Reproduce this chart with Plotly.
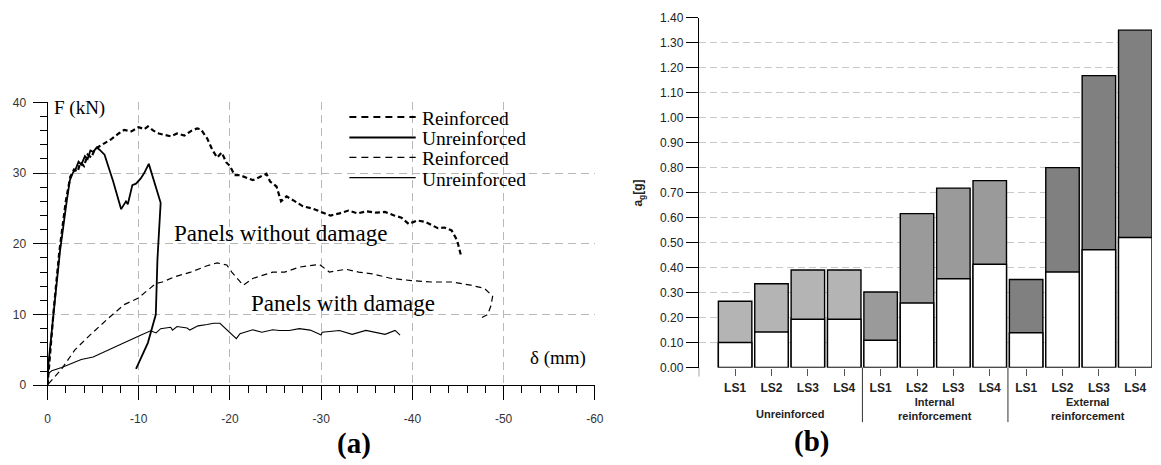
import plotly.graph_objects as go

W, H = 1161, 465

# ---------------- Panel (a): force-displacement curves ----------------
x_ticks_a = [0, -10, -20, -30, -40, -50, -60]
y_ticks_a = [0, 10, 20, 30, 40]

# Reinforced, panel without damage (thick dashed)
rd_x = [0, -0.3, -0.7, -1.3, -2.0, -2.5, -2.9, -3.3, -3.6, -4.0,
        -4.4, -4.8, -5.2, -5.7, -6.3, -7.0, -7.8, -8.4, -9.2, -10.0,
        -10.6, -11.0, -11.6, -12.2, -12.8, -13.5, -14.2, -15.0, -15.8, -16.4,
        -16.8, -17.5, -18.1, -18.6, -19.1, -19.6, -20.0, -20.5, -21.1, -21.8,
        -22.5, -23.2, -24.0, -24.4, -25.1, -25.6, -26.2, -27.0, -28.0, -29.0,
        -30.0, -31.0, -32.0, -33.0, -34.0, -35.0, -36.0, -37.0, -38.0, -38.8,
        -39.6, -40.5, -41.4, -42.2, -42.8, -43.5, -44.3, -44.9, -45.3]
rd_y = [0, 5, 11, 19, 26, 29.5, 30.5, 30.2, 31.5, 31.0,
        32.6, 32.2, 33.4, 33.8, 34.3, 34.8, 35.6, 36.1, 35.9, 36.5,
        36.2, 36.6, 36.0, 35.6, 35.4, 35.2, 35.6, 35.3, 36.0, 36.3,
        36.2, 34.9, 33.2, 32.2, 32.9, 31.5, 31.0, 29.7, 29.7, 29.3,
        29.0, 29.4, 29.9, 28.8, 28.1, 26.0, 26.7, 26.1, 25.3, 25.0,
        24.5, 24.0, 24.3, 24.7, 24.3, 24.6, 24.4, 24.5, 24.0, 23.7,
        22.8, 23.3, 23.1, 22.6, 22.2, 22.3, 21.9, 20.5, 18.5]

# Unreinforced, panel without damage (thick solid)
ud_x = [0, -0.1, -0.65, -1.37, -2.1, -2.45, -2.8, -3.1, -3.4, -3.7,
        -4.1, -4.4, -4.7, -5.0, -5.4, -5.7, -6.25, -7.2, -8.07, -8.6,
        -8.8, -9.3, -9.7, -10.2, -10.6, -11.1, -12.4, -12.05, -11.87, -11.0,
        -9.7]
ud_y = [0, 3, 10, 19, 26, 29, 30.1, 30.6, 31.6, 31.2,
        32.4, 32.0, 33.2, 33.0, 33.6, 33.3, 32.6, 28.8, 24.9, 26.0,
        25.6, 28.3, 28.5, 29.2, 30.0, 31.3, 25.8, 17.8, 10.0, 6.0,
        2.3]

# Reinforced, panel with damage (thin dashed)
rw_x = [-0.1, -1.55, -3.0, -4.45, -6.6, -8.4, -9.9, -11.9, -12.6, -13.85,
        -15.7, -17.5, -18.6, -19.65, -20.2, -21.45, -22.5, -24.7, -26.0, -27.6,
        -29.8, -30.9, -32.7, -34.1, -35.6, -37.7, -39.9, -42.1, -44.3, -46.4,
        -47.9, -48.8, -48.6, -48.25, -47.3]
rw_y = [0.2, 2.3, 5.0, 6.85, 9.4, 11.4, 12.3, 14.4, 14.6, 15.3,
        16.0, 16.9, 17.3, 17.0, 16.0, 14.15, 15.1, 16.0, 16.0, 16.7,
        17.1, 16.0, 16.4, 16.0, 15.75, 15.1, 14.8, 14.6, 14.6, 14.15,
        13.7, 12.6, 11.2, 10.0, 9.35]

# Unreinforced, panel with damage (thin solid)
uw_x = [0, -0.47, -1.55, -3.7, -5.0, -6.6, -8.1, -9.9, -11.3, -11.9,
        -12.4, -13.5, -13.7, -14.2, -15.3, -15.6, -16.5, -17.5, -18.2, -18.9,
        -20.7, -21.1, -21.8, -22.5, -23.5, -24.7, -25.4, -26.5, -27.6, -28.8,
        -30.0, -30.1, -32.0, -33.4, -34.9, -37.0, -38.1, -38.65]
uw_y = [1.6, 2.05, 2.5, 3.65, 4.0, 5.0, 5.85, 6.9, 7.7, 7.4,
        8.0, 8.2, 7.8, 8.3, 8.1, 7.8, 8.4, 8.6, 8.77, 8.77,
        6.6, 7.3, 7.6, 7.85, 7.5, 7.85, 7.75, 7.75, 8.0, 7.8,
        7.1, 7.5, 7.75, 7.2, 7.75, 7.2, 7.75, 7.1]

legend_names = ["Reinforced", "Unreinforced", "Reinforced", "Unreinforced"]

# ---------------- Panel (b): PGA at limit states ----------------
ls_labels = ["LS1", "LS2", "LS3", "LS4"] * 3
group_labels = ["Unreinforced", "Internal<br>reinforcement", "External<br>reinforcement"]
ag_total = [0.265, 0.335, 0.39, 0.39, 0.302, 0.616, 0.718, 0.748, 0.352, 0.80, 1.168, 1.35]
ag_lower = [0.10, 0.142, 0.193, 0.193, 0.109, 0.258, 0.355, 0.413, 0.139, 0.382, 0.471, 0.52]
group_colors = ["#b4b4b4", "#9a9a9a", "#808080"]
y_ticks_b = [round(i * 0.1, 2) for i in range(15)]


def pxx(v):
    return v / W


def pxy(v):
    return 1 - v / H


SERIF = "Liberation Serif"
SANS = "Liberation Sans"

fig = go.Figure()

fig.add_trace(go.Scatter(x=rd_x, y=rd_y, mode="lines", name=legend_names[0],
                         line=dict(color="black", width=2.2, dash="5px,3px"),
                         xaxis="x", yaxis="y", showlegend=False))
fig.add_trace(go.Scatter(x=ud_x, y=ud_y, mode="lines", name=legend_names[1],
                         line=dict(color="black", width=1.8),
                         xaxis="x", yaxis="y", showlegend=False))
fig.add_trace(go.Scatter(x=rw_x, y=rw_y, mode="lines", name=legend_names[2],
                         line=dict(color="black", width=1.2, dash="6px,4px"),
                         xaxis="x", yaxis="y", showlegend=False))
fig.add_trace(go.Scatter(x=uw_x, y=uw_y, mode="lines", name=legend_names[3],
                         line=dict(color="black", width=1.1),
                         xaxis="x", yaxis="y", showlegend=False))

idx = list(range(len(ls_labels)))
bar_colors = [group_colors[i // 4] for i in idx]
fig.add_trace(go.Bar(x=idx, y=ag_total, width=0.92, xaxis="x2", yaxis="y2",
                     marker=dict(color=bar_colors, line=dict(color="black", width=1.4)),
                     showlegend=False, name="total"))
fig.add_trace(go.Bar(x=idx, y=ag_lower, width=0.92, xaxis="x2", yaxis="y2",
                     marker=dict(color="white", line=dict(color="black", width=1.4)),
                     showlegend=False, name="lower"))

grid_a = "#b8b8b8"
fig.update_layout(
    width=W, height=H, autosize=False,
    margin=dict(l=0, r=0, t=0, b=0, pad=0),
    paper_bgcolor="white", plot_bgcolor="white",
    barmode="overlay",
    xaxis=dict(domain=[pxx(45), pxx(598)], range=[0, -60], anchor="y",
               tickvals=x_ticks_a, ticktext=[str(v) for v in x_ticks_a],
               ticks="outside", ticklen=14, tickwidth=1, tickcolor="black",
               ticklabelstandoff=8,
               minor=dict(ticks="outside", ticklen=7, tickcolor="black", dtick=2, tick0=0, showgrid=False),
               showline=True, linecolor="black", linewidth=1,
               showgrid=True, gridcolor=grid_a, griddash="8px,5px", gridwidth=1,
               zeroline=False, tickfont=dict(family=SANS, size=12, color="#333")),
    yaxis=dict(domain=[pxy(390), pxy(98.3)], range=[0, 40], anchor="x",
               tickvals=y_ticks_a, ticks="outside", ticklen=14, tickwidth=1, tickcolor="black",
               ticklabelstandoff=4,
               minor=dict(ticks="outside", ticklen=7, tickcolor="black", dtick=2, tick0=0, showgrid=False),
               showline=True, linecolor="black", linewidth=1,
               showgrid=True, gridcolor=grid_a, griddash="8px,5px", gridwidth=1,
               zeroline=False, tickfont=dict(family=SANS, size=12, color="#333")),
    xaxis2=dict(domain=[pxx(703), 1.0], range=[-1, 11.46], anchor="y2",
                tickvals=idx, ticktext=ls_labels,
                ticks="outside", ticklen=7, tickwidth=1, tickcolor="#555",
                ticklabelstandoff=2,
                showline=False, showgrid=False, zeroline=False,
                tickfont=dict(family=SANS, size=12, color="#222", weight="bold")),
    yaxis2=dict(domain=[pxy(371.7), pxy(11)], range=[0, 1.40], anchor="x2",
                tickvals=y_ticks_b, tickformat=".2f",
                ticks="outside", ticklen=12, tickwidth=1, tickcolor="black",
                showline=True, linecolor="black", linewidth=1,
                showgrid=True, gridcolor="#c8c8c8", griddash="7px,4px", gridwidth=1,
                zeroline=False, tickfont=dict(family=SANS, size=12, color="#222")),
)

shapes = []
# Legend samples for panel (a)
leg_rows = [113.3, 134.5, 155, 176]
leg_styles = [dict(width=2.0, dash="7px,5px"), dict(width=2.0, dash="solid"),
              dict(width=1.2, dash="7px,5px"), dict(width=1.2, dash="solid")]
for yy, st in zip(leg_rows, leg_styles):
    shapes.append(dict(type="line", xref="paper", yref="paper",
                       x0=pxx(350), x1=pxx(417), y0=pxy(yy), y1=pxy(yy),
                       line=dict(color="black", **st)))
# Group separators for panel (b)
shapes.append(dict(type="line", xref="x2", yref="paper", x0=-1, x1=-1,
                   y0=pxy(371.7), y1=pxy(381), line=dict(color="#333", width=1)))
for sx in (3.5, 7.5):
    shapes.append(dict(type="line", xref="x2", yref="paper", x0=sx, x1=sx,
                       y0=pxy(371.7), y1=pxy(428), line=dict(color="#333", width=1)))

annotations = []
for yy, name in zip([114.5, 135.5, 156.5, 177.5], legend_names):
    annotations.append(dict(text=name, xref="paper", yref="paper", x=pxx(421), y=pxy(yy),
                            xanchor="left", yanchor="middle", showarrow=False, height=21,
                            font=dict(family=SERIF, size=19.5, color="black")))
annotations += [
    dict(text="F (kN)", xref="x", yref="y", x=-0.47, y=39.2, xanchor="left", yanchor="middle",
         showarrow=False, font=dict(family=SERIF, size=19, color="black")),
    dict(text="\u03b4 (mm)", xref="x", yref="y", x=-52.7, y=3.8, xanchor="left", yanchor="middle",
         showarrow=False, font=dict(family=SERIF, size=19, color="black")),
    dict(text="Panels without damage", xref="x", yref="y", x=-13.7, y=21.5, xanchor="left",
         yanchor="middle", showarrow=False, font=dict(family=SERIF, size=23, color="black")),
    dict(text="Panels with damage", xref="x", yref="y", x=-22.1, y=11.5, xanchor="left",
         yanchor="middle", showarrow=False, font=dict(family=SERIF, size=23, color="black")),
    dict(text="<b>(a)</b>", xref="paper", yref="paper", x=pxx(355), y=pxy(450),
         xanchor="center", yanchor="middle", showarrow=False,
         font=dict(family=SERIF, size=29, color="black")),
    dict(text="<b>(b)</b>", xref="paper", yref="paper", x=pxx(817), y=pxy(448),
         xanchor="center", yanchor="middle", showarrow=False,
         font=dict(family=SERIF, size=29, color="black")),
    dict(text="<b>a<sub>g</sub>[g]</b>", xref="paper", yref="paper", x=pxx(643), y=pxy(192),
         xanchor="center", yanchor="middle", textangle=-90, showarrow=False,
         font=dict(family=SANS, size=12, color="#222")),
]
for gx, gy, gl in zip([1.5, 5.5, 9.7], [420, 414.5, 414.5], group_labels):
    annotations.append(dict(text="<b>" + gl + "</b>", xref="x2", yref="paper", x=gx,
                            y=pxy(gy), xanchor="center", yanchor="middle", showarrow=False,
                            font=dict(family=SANS, size=11, color="#222")))

fig.update_layout(shapes=shapes, annotations=annotations)

fig.write_html("out.html", config={"displayModeBar": False},
               post_script="document.body.style.margin='0';document.body.style.overflow='hidden';")
